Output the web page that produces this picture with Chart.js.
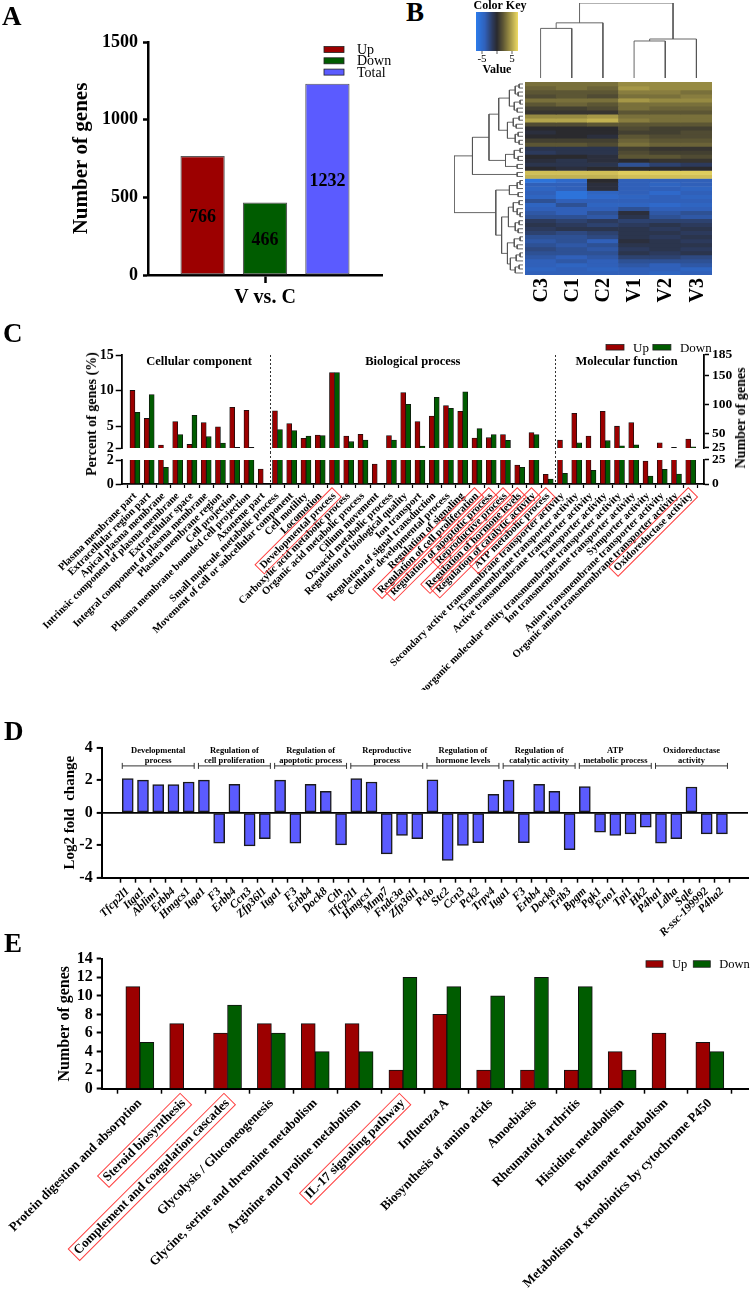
<!DOCTYPE html>
<html>
<head>
<meta charset="utf-8">
<title>DEG overview</title>
<script src="https://cdn.jsdelivr.net/npm/chart.js@4.4.1/dist/chart.umd.min.js"></script>
<style>
  html, body { margin: 0; padding: 0; background: #fff; }
  #page { position: relative; width: 752px; height: 1295px; overflow: hidden; background: #fff;
          font-family: 'Liberation Serif', 'Times New Roman', serif; color: #000; }
  #page canvas { position: absolute; }
  .txt { position: absolute; font-weight: bold; white-space: nowrap; line-height: 1; }
  .letter { font-size: 27px; }
  .vtitle { transform: translate(-50%, -50%) rotate(-90deg); }
</style>
</head>
<body>
<div id="page"></div>
<script>
// ---------- A: number of DEGs ----------
const aComparison = ['V vs. C'];
const aSeries = ['Up', 'Down', 'Total'];
const aCounts = [766, 466, 1232];

// ---------- B: heatmap (rows read top to bottom, columns C3..V3) ----------
const heatCols = ['C3', 'C1', 'C2', 'V1', 'V2', 'V3'];
const heatRows = [
  [3, 3, 3, 4, 4, 4], [2.5, 3, 2.5, 4.5, 4, 4], [2, 2, 2, 3.5, 3.5, 3], [1.5, 2, 1.5, 3, 3, 3.5],
  [3, 3, 3, 4.5, 4, 4], [2, 2.5, 2, 3, 3, 3], [1, 1, 1.5, 3, 2.5, 2.5], [0.5, 0.5, 0.5, 2, 2, 2],
  [4, 4, 4.5, 3, 3, 3], [5, 5, 5.5, 3.5, 3, 3], [1.5, 1.5, 2, 2, 2, 2], [0, 0, 0, 1.5, 1, 1],
  [-0.5, 0, 0, 1, 1, 1.5], [0, 0, -0.5, 2, 1.5, 1.5], [1, 1, 1, 2.5, 2, 2], [2, 2, 1.5, 3, 2.5, 2.5],
  [-1, -1, -1, 1, 0.5, 0.5], [-1.5, -1, -1, 1.5, 1, 1], [0, 0, -0.5, 2, 2, 1.5], [-0.5, -1, -0.5, 0, 0.5, 0.5],
  [-1, -1, -1, -3, -2, -1.5], [0, -0.5, 0, 0, 0, 0], [6, 6, 6, 6.5, 6.5, 6.5], [5.5, 5.5, 5.5, 6, 6, 6],
  [-6, -5, 0, -4, -4, -4], [-4, -4, -0.5, -4, -4.5, -4], [-4.5, -4, -0.5, -4, -4, -4.5], [-4, -6, -4.5, -4, -5, -4],
  [-4.5, -6, -5, -4.5, -4, -4.5], [-3, -4, -4, -4, -4, -4], [-4.5, -3, -4.5, -4.5, -5, -4.5], [-4, -4, -4, -3, -4, -4],
  [-3.5, -4, -3, -0.5, -3.5, -3], [-3, -3, -3.5, -1, -3, -3.5], [-1.5, -2, -1.5, -2, -2, -2], [-1, -1.5, -2, -1.5, -1, -1.5],
  [-1.5, -1, -1, -1, -1.5, -1], [-2, -2.5, -2, -1, -1, -1.5], [-3, -3, -2.5, -1, -1.5, -1], [-3.5, -3, -4, -0.5, -1, -1.5],
  [-3, -3.5, -3, -1, -1, -1], [-2.5, -3, -3.5, -1.5, -1, -1.5], [-3, -3, -3, -1, -1.5, -1], [-3.5, -4, -3.5, -2, -2, -2.5],
  [-4, -3.5, -4, -3, -3, -3], [-4, -4.5, -4, -3.5, -4, -3.5], [-4.5, -4, -4.5, -4, -4, -4.5], [-4, -4, -4, -4, -4.5, -4]
];
// dendrograms: [height, left, right], leaves are column / row indices
const colTree = [75.6, [55.6, [50, 0, 1], 2], [39.3, [37.3, 3, 4], 5]];
const rowTree =
  [71,
    [52,
      [35,
        [25,
          [14, [8, [4, 0, 1], [5, 2, 3]], [9, [3, 4, 5], [6, 6, 7]]],
          [16, [10, [4, 8, 9], [7, 10, 11]], [8, [5, 12, 13], [4, 14, 15]]]],
        [18, [9, [3, 16, 17], [5, 18, 19]], [6, 20, 21]]],
      [6, 22, 23]],
    [28,
      [14, [6, [3, 24, 25], 26], [5, 27, 28]],
      [22,
        [15, [10, [4, 29, 30], [6, 31, [3, 32, 33]]], [8, [4, 34, 35], [5, 36, 37]]],
        [16, [9, [3, 38, 39], [6, 40, 41]], [13, [7, [3, 42, 43], 44], [8, [4, 45, 46], 47]]]]]];
const keyMin = -7, keyMax = 7;
const keyTicks = [-5, 0, 5];
const keyLabels = ['-5', '', '5'];

// ---------- C: GO enrichment (percent of genes) ----------
const goTerms = [
  'Plasma membrane part', 'Extracellular region part', 'Apical plasma membrane',
  'Intrinsic component of plasma membrane', 'Extracellular space', 'Integral component of plasma membrane',
  'Plasma membrane region', 'Cell projection', 'Plasma membrane bounded cell projection', 'Axoneme part',
  'Small molecule metabolic process', 'Movement of cell or subcellular component', 'Cell motility', 'Locomotion',
  'Developmental process', 'Carboxylic acid metabolic process', 'Organic acid metabolic process', 'Cilium movement',
  'Oxoacid metabolic process', 'Regulation of biological quality', 'Ion transport', 'Regulation of signal transduction',
  'Cellular developmental process', 'Regulation of signaling', 'Regulation of cell proliferation',
  'Regulation of apoptotic process', 'Reproductive process', 'Regulation of hormone levels',
  'Regulation of catalytic activity', 'ATP metabolic process',
  'Secondary active transmembrane transporter activity', 'Transmembrane transporter activity',
  'Active transmembrane transporter activity', 'Transporter activity',
  'Inorganic molecular entity transmembrane transporter activity', 'Ion transmembrane transporter activity',
  'Symporter activity', 'Anion transmembrane transporter activity',
  'Organic anion transmembrane transporter activity', 'Oxidoreductase activity'
];
const goUp = [10.05, 6.13, 2.4, 5.7, 2.5, 5.57, 4.95, 7.7, 7.26, 1.25,
  7.2, 5.43, 3.35, 3.82, 12.55, 3.68, 3.92, 1.67, 3.73, 9.76, 5.7, 6.46, 7.92, 7.12, 3.4, 3.44, 3.87, 1.58, 4.15, 0.8,
  3.11, 6.84, 3.68, 7.12, 5.05, 5.57, 1.92, 2.74, 2.08, 3.25];
const goDown = [7.0, 9.48, 1.39, 3.87, 6.56, 3.58, 2.7, 2.08, 2.08, 0,
  4.57, 4.43, 3.68, 3.73, 12.55, 2.88, 3.11, 0, 3.11, 8.11, 2.26, 9.1, 7.55, 9.86, 4.72, 3.87, 3.07, 1.39, 3.87, 0.42,
  0.89, 2.74, 1.14, 3.02, 2.31, 2.45, 0.67, 1.22, 0.83, 2.17];
const goSections = ['Cellular component', 'Biological process', 'Molecular function'];
const goSectionSizes = [10, 20, 10];
const goHighlighted = [14, 24, 25, 26, 27, 28, 29, 39];
const goTotalGenes = 1232;
const goLeftTicks = [2, 5, 10, 15];
const goRightTicks = [25, 50, 100, 150, 185];

// ---------- D: log2 fold change of genes per term ----------
const deGenes = ['Tfcp2l1', 'Itga1', 'Ablim1', 'Erbb4', 'Hmgcs1', 'Itga1', 'F3', 'Erbb4', 'Ccn3', 'Zfp36l1',
  'Itga1', 'F3', 'Erbb4', 'Dock8', 'Cth', 'Tfcp2l1', 'Hmgcs1', 'Mmp7', 'Fndc3a', 'Zfp36l1',
  'Pclo', 'Stc2', 'Ccn3', 'Pck2', 'Trpv4', 'Itga1', 'F3', 'Erbb4', 'Dock8', 'Trib3',
  'Bpgm', 'Pgk1', 'Eno1', 'Tpi1', 'Hk2', 'P4ha1', 'Ldha', 'Sqle', 'R-ssc-199992', 'P4ha2'];
const deLog2FC = [2.1, 2.0, 1.73, 1.73, 1.89, 2.0, -1.88, 1.75, -2.04, -1.6,
  2.0, -1.88, 1.75, 1.31, -1.98, 2.1, 1.89, -2.53, -1.4, -1.6,
  2.03, -2.94, -2.02, -1.85, 1.13, 2.0, -1.85, 1.75, 1.31, -2.27,
  1.6, -1.2, -1.4, -1.3, -0.89, -1.87, -1.6, 1.58, -1.3, -1.3];
const deGroups = [['Developmental', 'process'], ['Regulation of', 'cell proliferation'],
  ['Regulation of', 'apoptotic process'], ['Reproductive', 'process'], ['Regulation of', 'hormone levels'],
  ['Regulation of', 'catalytic activity'], ['ATP', 'metabolic process'], ['Oxidoreductase', 'activity']];

// ---------- E: KEGG pathways ----------
const keggPathways = ['Protein digestion and absorption', 'Steroid biosynthesis', 'Complement and coagulation cascades',
  'Glycolysis / Gluconeogenesis', 'Glycine, serine and threonine metabolism', 'Arginine and proline metabolism',
  'IL-17 signaling pathway', 'Influenza A', 'Biosynthesis of amino acids', 'Amoebiasis', 'Rheumatoid arthritis',
  'Histidine metabolism', 'Butanoate metabolism', 'Metabolism of xenobiotics by cytochrome P450'];
const keggUp = [11, 7, 6, 7, 7, 7, 2, 8, 2, 2, 2, 4, 6, 5];
const keggDown = [5, 0, 9, 6, 4, 4, 12, 11, 10, 12, 11, 2, 0, 4];
const keggHighlighted = [1, 2, 6];

// ---------- common ----------
const FONT = "'Liberation Serif', 'Times New Roman', serif";
const RED = '#9c0000', GREEN = '#005c00', BLUE = '#5b5bff';

Chart.defaults.font.family = FONT;
Chart.defaults.color = '#000';
Chart.defaults.animation = false;
Chart.defaults.responsive = false;
Chart.defaults.plugins.legend.display = false;
Chart.defaults.plugins.tooltip.enabled = false;

const page = document.getElementById('page');

function makeCanvas(left, top, w, h) {
  const c = document.createElement('canvas');
  c.width = w; c.height = h;
  c.style.left = left + 'px'; c.style.top = top + 'px';
  c.style.width = w + 'px'; c.style.height = h + 'px';
  page.appendChild(c);
  return c;
}

function addText(text, left, top, size, extraClass) {
  const d = document.createElement('div');
  d.className = 'txt' + (extraClass ? ' ' + extraClass : '');
  d.textContent = text;
  d.style.left = left + 'px'; d.style.top = top + 'px';
  if (size) d.style.fontSize = size + 'px';
  page.appendChild(d);
  return d;
}

// fixed axis sizes so that the plot areas land where the figure has them
const fixW = w => s => { s.width = w; s.paddingTop = 0; s.paddingBottom = 0; };
const fixH = h => s => { s.height = h; s.paddingLeft = 0; s.paddingRight = 0; };
const indexTicks = labels => s => { s.ticks = labels.map((_, i) => ({ value: i })); };
const listTicks = list => s => { s.ticks = list.map(v => ({ value: v })); };
const plainNumber = v => String(v);

// legend made of small boxes, drawn straight on the canvas
const boxLegend = {
  id: 'boxLegend',
  afterDraw(chart, args, o) {
    const ctx = chart.ctx;
    ctx.save();
    ctx.font = `${o.size}px ${FONT}`;
    ctx.textBaseline = 'middle';
    let x = o.x, y = o.y;
    chart.data.datasets.forEach(ds => {
      ctx.fillStyle = ds.backgroundColor;
      ctx.fillRect(x, y - o.boxH / 2, o.boxW, o.boxH);
      ctx.strokeStyle = '#222';
      ctx.lineWidth = 0.8;
      ctx.strokeRect(x, y - o.boxH / 2, o.boxW, o.boxH);
      ctx.fillStyle = '#000';
      ctx.fillText(ds.label, x + o.boxW + o.textGap, y + 1);
      if (o.vertical) y += o.rowGap;
      else x += o.boxW + o.textGap + ctx.measureText(ds.label).width + o.itemGap;
    });
    ctx.restore();
  }
};

// red frames round some rotated tick labels
const labelBoxes = {
  id: 'labelBoxes',
  afterDraw(chart, args, o) {
    const sc = chart.scales.x, ctx = chart.ctx;
    const fs = o.size, lh = fs * 1.2, rot = -Math.PI / 4;
    ctx.save();
    ctx.font = `bold ${fs}px ${FONT}`;
    ctx.strokeStyle = '#ff4040';
    ctx.lineWidth = 1;
    o.indices.forEach(i => {
      const w = ctx.measureText(o.labels[i]).width;
      const x = sc.getPixelForValue(i) + (lh / 2) * Math.sin(rot);
      const y = sc.top + o.tickLength + o.padding;
      ctx.save();
      ctx.translate(x, y);
      ctx.rotate(rot);
      ctx.strokeRect(-w - 3, lh / 2 - fs * 0.62, w + 6, fs * 1.24);
      ctx.restore();
    });
    ctx.restore();
  }
};

// ================= Panel A =================
(function () {
  const barLabels = {
    id: 'barLabels',
    afterDatasetsDraw(chart) {
      const ctx = chart.ctx;
      ctx.save();
      ctx.font = `bold 18px ${FONT}`;
      ctx.textAlign = 'center';
      ctx.textBaseline = 'middle';
      ctx.fillStyle = '#000';
      chart.data.datasets.forEach((ds, i) => {
        const bar = chart.getDatasetMeta(i).data[0];
        ctx.fillText(String(ds.data[0]), bar.x, (bar.y + bar.base) / 2 + 2);
      });
      ctx.restore();
    }
  };
  const colors = [RED, GREEN, BLUE];
  new Chart(makeCanvas(0, 0, 400, 310), {
    type: 'bar',
    data: {
      labels: aComparison,
      datasets: aSeries.map((s, i) => ({
        label: s, data: [aCounts[i]], backgroundColor: colors[i],
        borderColor: '#5a5a5a', borderWidth: 1.2, borderSkipped: false,
        categoryPercentage: 0.8, barPercentage: 0.71
      }))
    },
    options: {
      layout: { padding: { left: 0, right: 18, top: 42, bottom: 0 } },
      scales: {
        x: {
          grid: { drawOnChartArea: false, offset: false, tickLength: 8, tickWidth: 2.5, tickColor: '#000' },
          border: { color: '#000', width: 2.5 },
          ticks: { font: { size: 20, weight: 'bold' }, padding: 3 },
          afterFit: fixH(35)
        },
        y: {
          min: 0, max: 1500,
          ticks: { stepSize: 500, font: { size: 18, weight: 'bold' }, padding: 5, callback: plainNumber },
          grid: { drawOnChartArea: false, tickLength: 5, tickWidth: 2.5, tickColor: '#000' },
          border: { color: '#000', width: 2.5 },
          title: { display: true, text: 'Number of genes', font: { size: 21, weight: 'bold' }, padding: { top: 69, bottom: 0 } },
          afterFit: fixW(148)
        }
      },
      plugins: { boxLegend: { x: 324, y: 49.5, boxW: 20, boxH: 6, textGap: 13, rowGap: 11.3, vertical: true, size: 14 } }
    },
    plugins: [boxLegend, barLabels]
  });
})();

// ================= Panel B =================
const heatStops = [
  [-7, [44, 124, 235]], [-4, [48, 96, 185]], [-1.5, [44, 58, 92]], [0, [42, 42, 46]],
  [2, [92, 86, 52]], [4, [150, 138, 66]], [7, [238, 218, 98]]
];
function heatColor(v) {
  const t = Math.max(keyMin, Math.min(keyMax, v));
  for (let i = 1; i < heatStops.length; i++) {
    const [v0, c0] = heatStops[i - 1], [v1, c1] = heatStops[i];
    if (t <= v1) {
      const f = (t - v0) / (v1 - v0);
      const c = c0.map((k, j) => Math.round(k + (c1[j] - k) * f));
      return `rgb(${c[0]},${c[1]},${c[2]})`;
    }
  }
  const c = heatStops[heatStops.length - 1][1];
  return `rgb(${c[0]},${c[1]},${c[2]})`;
}

function walkTree(node, segs) {
  if (typeof node === 'number') return { pos: node, h: 0 };
  const [h, l, r] = node;
  const a = walkTree(l, segs), b = walkTree(r, segs);
  segs.push([[a.pos, a.h], [a.pos, h], [b.pos, h], [b.pos, b.h]]);
  return { pos: (a.pos + b.pos) / 2, h };
}

(function () {
  const heatExtras = {
    id: 'heatExtras',
    afterDraw(chart) {
      const ctx = chart.ctx, xs = chart.scales.x;
      ctx.save();
      ctx.fillStyle = '#000';
      ctx.font = `bold 20px ${FONT}`;
      ctx.textAlign = 'right';
      ctx.textBaseline = 'middle';
      heatCols.forEach((c, i) => {
        ctx.save();
        ctx.translate(xs.getPixelForValue(i) + 1, chart.chartArea.bottom + 3);
        ctx.rotate(-Math.PI / 2);
        ctx.fillText(c, 0, 0);
        ctx.restore();
      });
      // colour key
      const kx0 = 36, kx1 = 78, ky0 = 12, ky1 = 51;
      for (let px = kx0; px < kx1; px++) {
        ctx.fillStyle = heatColor(keyMin + (px + 0.5 - kx0) / (kx1 - kx0) * (keyMax - keyMin));
        ctx.fillRect(px, ky0, 1, ky1 - ky0);
      }
      ctx.strokeStyle = '#333';
      ctx.lineWidth = 0.8;
      ctx.fillStyle = '#000';
      ctx.textAlign = 'center';
      ctx.font = `11px ${FONT}`;
      keyTicks.forEach((v, i) => {
        const px = kx0 + (v - keyMin) / (keyMax - keyMin) * (kx1 - kx0);
        ctx.beginPath(); ctx.moveTo(px, ky1); ctx.lineTo(px, ky1 + 3); ctx.stroke();
        if (keyLabels[i]) ctx.fillText(keyLabels[i], px, ky1 + 8);
      });
      ctx.font = `bold 12px ${FONT}`;
      ctx.fillText('Color Key', 60, 6);
      ctx.fillText('Value', 57, 70);
      ctx.restore();
    }
  };
  new Chart(makeCanvas(440, 0, 312, 310), {
    type: 'bar',
    data: {
      labels: heatCols,
      datasets: heatRows.map((vals, r) => ({
        data: vals.map(() => [r, r + 1]),
        backgroundColor: vals.map(heatColor),
        borderWidth: 0, grouped: false, categoryPercentage: 1, barPercentage: 1
      }))
    },
    options: {
      layout: { padding: { left: 85, right: 40, top: 82, bottom: 35 } },
      scales: { x: { display: false }, y: { display: false, min: 0, max: heatRows.length, reverse: true } }
    },
    plugins: [heatExtras]
  });

  const lineSet = pts => ({ data: pts, showLine: true, pointRadius: 0, borderColor: '#555', borderWidth: 0.9, fill: false });

  const rowSegs = [];
  walkTree(rowTree, rowSegs);
  new Chart(makeCanvas(440, 0, 312, 310), {
    type: 'scatter',
    data: { datasets: rowSegs.map(s => lineSet(s.map(([p, h]) => ({ x: h, y: p })))) },
    options: {
      layout: { padding: { left: 14, right: 229, top: 82, bottom: 35 } },
      scales: {
        x: { display: false, min: 0, max: rowTree[0], reverse: true },
        y: { display: false, min: -0.5, max: heatRows.length - 0.5, reverse: true }
      }
    }
  });

  const colSegs = [];
  walkTree(colTree, colSegs);
  new Chart(makeCanvas(440, 0, 312, 310), {
    type: 'scatter',
    data: { datasets: colSegs.map(s => lineSet(s.map(([p, h]) => ({ x: p, y: h })))) },
    options: {
      layout: { padding: { left: 85, right: 40, top: 3, bottom: 232 } },
      scales: {
        x: { display: false, min: -0.5, max: heatCols.length - 0.5 },
        y: { display: false, min: 0, max: colTree[0] }
      }
    }
  });
})();

// ================= Panel C =================
(function () {
  const xMin = -0.93, xMax = goTerms.length - 1 + 0.93;
  const breaks = [];
  goSectionSizes.reduce((acc, n, i) => { if (i > 0) breaks.push(acc - 0.5); return acc + n; }, 0);

  const sectionLines = {
    id: 'sectionLines',
    afterDatasetsDraw(chart, args, o) {
      const ctx = chart.ctx, xs = chart.scales.x;
      ctx.save();
      ctx.strokeStyle = '#333';
      ctx.lineWidth = 1;
      ctx.setLineDash([2, 2]);
      breaks.forEach(b => {
        const x = Math.round(xs.getPixelForValue(b)) + 0.5;
        ctx.beginPath();
        ctx.moveTo(x, o.fromTop ? 0 : chart.chartArea.top);
        ctx.lineTo(x, o.toBottom ? chart.height : chart.chartArea.bottom);
        ctx.stroke();
      });
      if (o.titles) {
        ctx.setLineDash([]);
        ctx.fillStyle = '#000';
        ctx.font = `bold 12.5px ${FONT}`;
        ctx.textAlign = 'center';
        ctx.textBaseline = 'middle';
        let start = 0;
        goSections.forEach((s, i) => {
          const mid = start + (goSectionSizes[i] - 1) / 2;
          ctx.fillText(s, xs.getPixelForValue(mid), 22);
          start += goSectionSizes[i];
        });
      }
      ctx.restore();
    }
  };

  const datasets = () => [
    { label: 'Up', data: goUp.map((v, i) => ({ x: i, y: v })), backgroundColor: RED },
    { label: 'Down', data: goDown.map((v, i) => ({ x: i, y: v })), backgroundColor: GREEN }
  ].map(d => Object.assign(d, { borderColor: '#111', borderWidth: 0.8, barThickness: 5, clip: 0 }));

  const yLeft = (min, max, ticks) => ({
    position: 'left', min, max,
    afterBuildTicks: listTicks(ticks),
    ticks: { font: { size: 14, weight: 'bold' }, padding: 2, autoSkip: false, callback: plainNumber },
    grid: { drawOnChartArea: false, tickLength: 6, tickWidth: 1.5, tickColor: '#000' },
    border: { color: '#000', width: 1.8 },
    afterFit: fixW(121.7)
  });
  const yRight = (min, max, ticks) => ({
    position: 'right', min, max,
    afterBuildTicks: listTicks(ticks),
    ticks: { font: { size: 13.5, weight: 'bold' }, padding: 3, autoSkip: false, callback: plainNumber },
    grid: { drawOnChartArea: false, tickLength: 5, tickWidth: 1.5, tickColor: '#000' },
    border: { color: '#000', width: 1.8 },
    afterFit: fixW(48)
  });

  // upper part of the broken axis
  new Chart(makeCanvas(0, 340, 752, 112), {
    type: 'bar',
    data: { datasets: datasets() },
    options: {
      layout: { padding: { left: 0, right: 0, top: 15, bottom: 4 } },
      scales: {
        x: { type: 'linear', min: xMin, max: xMax, offset: false, display: false },
        y: yLeft(2, 15, goLeftTicks),
        y1: yRight(2 * goTotalGenes / 100, 15 * goTotalGenes / 100, goRightTicks)
      },
      plugins: {
        sectionLines: { toBottom: true, titles: true },
        boxLegend: { x: 606, y: 7.3, boxW: 18, boxH: 5.5, textGap: 9, itemGap: 4, size: 13 }
      }
    },
    plugins: [sectionLines, boxLegend]
  });

  // lower part with the term labels
  new Chart(makeCanvas(0, 452, 752, 238), {
    type: 'bar',
    data: { datasets: datasets() },
    options: {
      layout: { padding: { left: 0, right: 0, top: 8, bottom: 0 } },
      scales: {
        x: {
          type: 'linear', min: xMin, max: xMax, offset: false,
          afterBuildTicks: indexTicks(goTerms),
          ticks: { autoSkip: false, minRotation: 45, maxRotation: 45, padding: 2,
                   font: { size: 10.5, weight: 'bold' }, callback: v => goTerms[v] },
          grid: { drawOnChartArea: false, tickLength: 4, tickWidth: 1.2, tickColor: '#000' },
          border: { color: '#000', width: 1.8 },
          afterFit: fixH(206)
        },
        y: yLeft(0, 2, [0, 2]),
        y1: yRight(0, 2 * goTotalGenes / 100, [0, 25])
      },
      plugins: {
        sectionLines: { fromTop: true },
        labelBoxes: { indices: goHighlighted, labels: goTerms, size: 10.5, tickLength: 4, padding: 2 }
      }
    },
    plugins: [sectionLines, labelBoxes]
  });
})();

// ================= Panel D =================
(function () {
  const groupSize = deGenes.length / deGroups.length;
  const brackets = {
    id: 'brackets',
    afterDatasetsDraw(chart) {
      const ctx = chart.ctx, xs = chart.scales.x, ys = chart.scales.y;
      ctx.save();
      ctx.strokeStyle = '#333';
      ctx.lineWidth = 1;
      ctx.fillStyle = '#000';
      ctx.font = `bold 8.5px ${FONT}`;
      ctx.textAlign = 'center';
      ctx.textBaseline = 'middle';
      deGroups.forEach((g, gi) => {
        const xa = xs.getPixelForValue(gi * groupSize) - 5.5;
        const xb = xs.getPixelForValue(gi * groupSize + groupSize - 1) + 5.5;
        const yb = ys.getPixelForValue(2.88);
        ctx.beginPath();
        ctx.moveTo(xa, yb); ctx.lineTo(xb, yb);
        ctx.moveTo(xa, yb - 3); ctx.lineTo(xa, yb + 3);
        ctx.moveTo(xb, yb - 3); ctx.lineTo(xb, yb + 3);
        ctx.stroke();
        ctx.fillText(g[0], (xa + xb) / 2, ys.getPixelForValue(3.8));
        ctx.fillText(g[1], (xa + xb) / 2, ys.getPixelForValue(3.22));
      });
      ctx.restore();
    }
  };
  new Chart(makeCanvas(0, 720, 752, 230), {
    type: 'bar',
    data: {
      datasets: [{
        label: 'Log2 fold change', data: deLog2FC.map((v, i) => ({ x: i, y: v })),
        backgroundColor: BLUE, borderColor: '#1a1a1a', borderWidth: 1.5, borderSkipped: false, barThickness: 11
      }]
    },
    options: {
      layout: { padding: { left: 0, right: 4, top: 27.7, bottom: 0 } },
      scales: {
        x: {
          type: 'linear', min: -1.71, max: deGenes.length - 1 + 1.71, offset: false,
          afterBuildTicks: indexTicks(deGenes),
          ticks: { autoSkip: false, minRotation: 45, maxRotation: 45, padding: 2,
                   font: { size: 11.5, weight: 'bold', style: 'italic' }, callback: v => deGenes[v] },
          grid: { drawOnChartArea: false, tickLength: 5, tickWidth: 1.5, tickColor: '#000' },
          border: { color: '#000', width: 2 },
          afterFit: fixH(72.3)
        },
        y: {
          min: -4, max: 4,
          ticks: { stepSize: 2, autoSkip: false, font: { size: 16, weight: 'bold' }, padding: 4 },
          grid: { color: c => (c.tick && c.tick.value === 0 ? '#000' : 'rgba(0,0,0,0)'), lineWidth: 1.8,
                  tickLength: 5, tickWidth: 2, tickColor: '#000' },
          border: { color: '#000', width: 2 },
          title: { display: true, text: 'Log2 fold  change', font: { size: 15, weight: 'bold' }, padding: { top: 61, bottom: 0 } },
          afterFit: fixW(101.7)
        }
      }
    },
    plugins: [brackets]
  });
})();

// ================= Panel E =================
(function () {
  new Chart(makeCanvas(0, 945, 752, 350), {
    type: 'bar',
    data: {
      datasets: [
        { label: 'Up', data: keggUp.map((v, i) => ({ x: i, y: v })), backgroundColor: RED },
        { label: 'Down', data: keggDown.map((v, i) => ({ x: i, y: v })), backgroundColor: GREEN }
      ].map(d => Object.assign(d, { borderColor: '#111', borderWidth: 1, barThickness: 14 }))
    },
    options: {
      layout: { padding: { left: 0, right: 4, top: 13.7, bottom: 0 } },
      scales: {
        x: {
          type: 'linear', min: -0.87, max: keggPathways.length - 1 + 0.87, offset: false,
          afterBuildTicks: indexTicks(keggPathways),
          ticks: { autoSkip: false, minRotation: 45, maxRotation: 45, padding: 2,
                   font: { size: 13, weight: 'bold' }, callback: v => keggPathways[v] },
          grid: { drawOnChartArea: false, tickLength: 5, tickWidth: 1.5, tickColor: '#000' },
          border: { color: '#000', width: 2 },
          afterFit: fixH(206.3)
        },
        y: {
          min: 0, max: 14,
          ticks: { stepSize: 2, autoSkip: false, font: { size: 16, weight: 'bold' }, padding: 4 },
          grid: { drawOnChartArea: false, tickLength: 5, tickWidth: 2, tickColor: '#000' },
          border: { color: '#000', width: 2 },
          title: { display: true, text: 'Number of genes', font: { size: 16, weight: 'bold' }, padding: { top: 55, bottom: 0 } },
          afterFit: fixW(101.7)
        }
      },
      plugins: {
        boxLegend: { x: 646, y: 19, boxW: 17, boxH: 6.5, textGap: 9, itemGap: 6, size: 12.5 },
        labelBoxes: { indices: keggHighlighted, labels: keggPathways, size: 13, tickLength: 5, padding: 2 }
      }
    },
    plugins: [boxLegend, labelBoxes]
  });
})();

// ---------- panel letters and the titles shared by the broken axis ----------
addText('A', 2, 3, 27, 'letter');
addText('B', 406, -1, 27, 'letter');
addText('C', 3, 320, 27, 'letter');
addText('D', 4, 718, 27, 'letter');
addText('E', 4, 930, 27, 'letter');
addText('Percent of genes (%)', 92, 414, 14, 'vtitle');
addText('Number of genes', 741, 418, 14, 'vtitle');
</script>
</body>
</html>
